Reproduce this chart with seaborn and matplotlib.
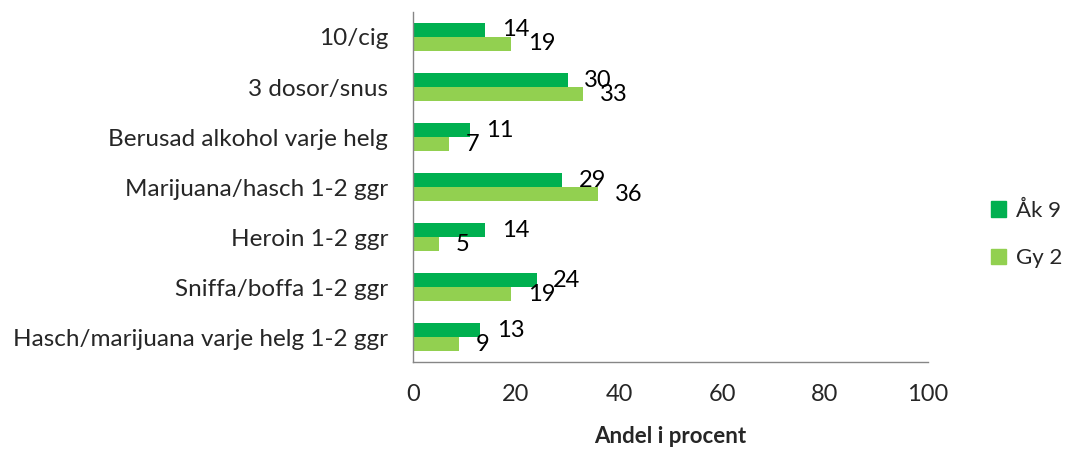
import pandas as pd
import matplotlib
matplotlib.use("Agg")
import matplotlib.pyplot as plt
import seaborn as sns
from matplotlib.patches import Patch

categories = [
    "10/cig",
    "3 dosor/snus",
    "Berusad alkohol varje helg",
    "Marijuana/hasch 1-2 ggr",
    "Heroin 1-2 ggr",
    "Sniffa/boffa 1-2 ggr",
    "Hasch/marijuana varje helg 1-2 ggr",
]
ak9 = [14, 30, 11, 29, 14, 24, 13]
gy2 = [19, 33, 7, 36, 5, 19, 9]
series = ["Åk 9", "Gy 2"]
x_ticks = [0, 20, 40, 60, 80, 100]


def main():
    df = pd.DataFrame({
        "Kategori": categories * 2,
        "Andel": ak9 + gy2,
        "Grupp": [series[0]] * len(categories) + [series[1]] * len(categories),
    })

    sns.set_style("white")
    plt.rcParams["font.family"] = ["Lato", "DejaVu Sans"]
    colors = {"Åk 9": "#00B050", "Gy 2": "#92D050"}

    fig = plt.figure(figsize=(10.65, 4.51), dpi=100)
    ax = fig.add_axes([0.3878, 0.1973, 0.4836, 0.7761])
    sns.barplot(data=df, x="Andel", y="Kategori", hue="Grupp", order=categories,
                hue_order=series, palette=colors, orient="h", width=0.56,
                ax=ax, legend=False, saturation=1, edgecolor="none")

    for cont in ax.containers:
        ax.bar_label(cont, padding=12, fontsize=17, color="black")

    ax.set_xlim(0, 100)
    ax.set_ylim(len(categories) - 0.5, -0.5)
    ax.set_xticks(x_ticks)
    ax.set_xticklabels([str(t) for t in x_ticks], fontsize=17)
    ax.set_yticks(range(len(categories)))
    ax.set_yticklabels(categories, fontsize=17.5)
    ax.set_yticks([i - 0.5 for i in range(len(categories) + 1)], minor=True)
    ax.tick_params(axis="y", which="major", length=0, pad=18)
    ax.tick_params(axis="y", which="minor", length=6, width=1, color="#868686", direction="out")
    ax.tick_params(axis="x", length=6, width=1, color="#868686", direction="out", pad=10)
    ax.set_ylabel("")
    ax.set_xlabel("Andel i procent", fontsize=16, fontweight="bold", labelpad=15)

    for side in ["top", "right"]:
        ax.spines[side].set_visible(False)
    for side in ["left", "bottom"]:
        ax.spines[side].set_color("#868686")
        ax.spines[side].set_linewidth(1)

    handles = [Patch(color=colors[s], label=s) for s in series]
    fig.legend(handles=handles, loc="center left", bbox_to_anchor=(0.922, 0.48),
               frameon=False, fontsize=16, handlelength=0.7, handleheight=0.7,
               handletextpad=0.45, labelspacing=1.25, borderaxespad=0)

    fig.savefig("out.png", dpi=100)


if __name__ == "__main__":
    main()
